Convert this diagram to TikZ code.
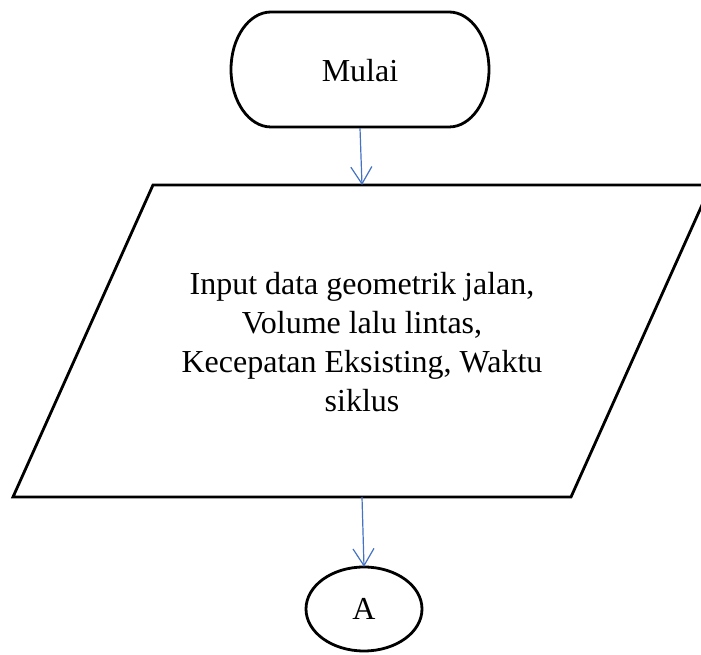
\documentclass[tikz,border=0pt]{standalone}
\usepackage{fontspec}
\setmainfont{Liberation Serif}
\usetikzlibrary{arrows.meta}
\definecolor{arrowblue}{HTML}{4472C4}
\tikzset{
  shapeline/.style={draw=black, line width=2.8pt, line join=miter},
  flowtext/.style={font=\fontsize{32pt}{39pt}\selectfont, inner sep=0pt, align=center},
  conn/.style={draw=arrowblue, line width=1.2pt, -{Straight Barb[length=17pt, width=21pt, line width=1.2pt]}}
}
\begin{document}
\begin{tikzpicture}[x=1pt, y=1pt]
\useasboundingbox (0,0) rectangle (701,655);
\clip (0,0) rectangle (701,655);
% terminal
\draw[shapeline] (271,643) -- (449,643)
  arc[start angle=90, end angle=-90, x radius=40, y radius=57.5]
  -- (271,528)
  arc[start angle=270, end angle=90, x radius=40, y radius=57.5] -- cycle;
\node[flowtext, minimum width=258pt, minimum height=115pt] (start) at (360,584.5) {Mulai};
% input parallelogram
\draw[shapeline] (153,470) -- (711,470) -- (571,158) -- (13,158) -- cycle;
\node[flowtext] (inp) at (362,313) {Input data geometrik jalan,\\Volume lalu lintas,\\Kecepatan Eksisting, Waktu\\siklus};
\coordinate (ptop) at (362,470);
\coordinate (pbot) at (362,158);
% connector A
\draw[line width=2.8pt] (364,46) ellipse[x radius=58, y radius=42];
\node[flowtext, minimum width=116pt, minimum height=84pt] (A) at (364,46) {A};
% connectors
\draw[conn] (start.south) -- (ptop);
\draw[conn] (pbot) -- (A.north);
\end{tikzpicture}
\end{document}
